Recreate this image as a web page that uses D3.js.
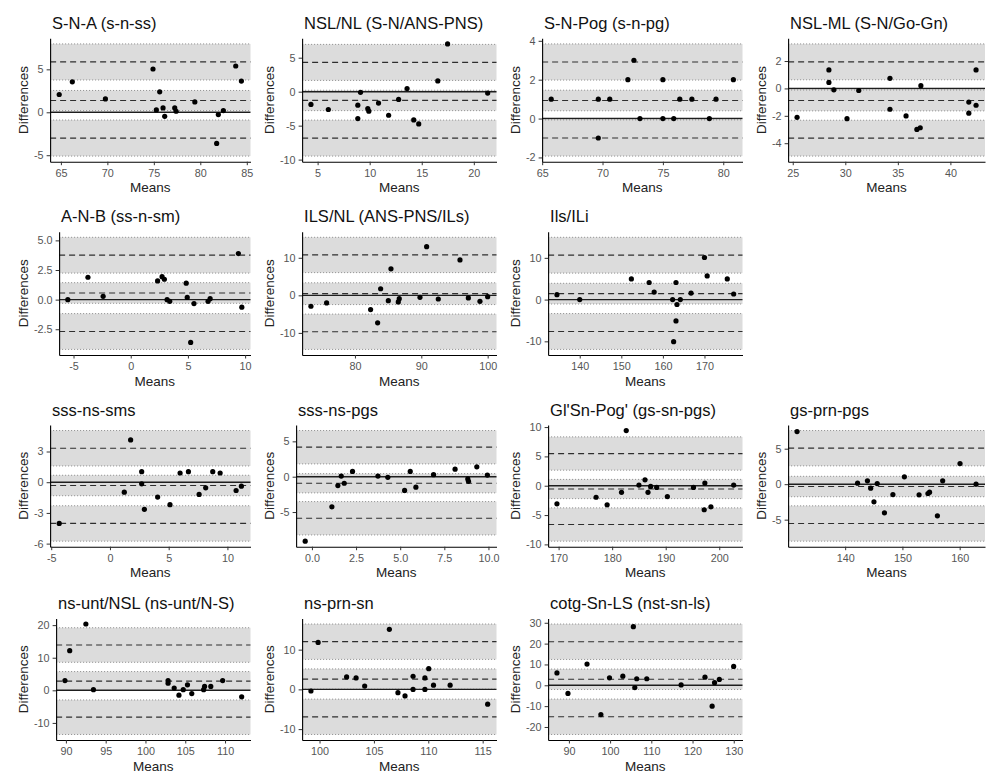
<!DOCTYPE html>
<html>
<head>
<meta charset="utf-8">
<script src="https://cdn.jsdelivr.net/npm/d3@7"></script>
<style>
    body { margin: 0; background: #fff; }
    svg { display: block; font-family: "Liberation Sans", Arial, Helvetica, sans-serif; }
</style>
</head>
<body>
<svg id="chart" width="987" height="773"></svg>
<script>
/* DATA: one array of [mean, difference] pairs per measurement */
const pSNA = [[64.82,2.07],[66.23,3.55],[69.79,1.56],[74.91,5.04],[75.63,2.38],[75.27,0.27],[75.99,0.51],[76.17,-0.47],[77.25,0.51],[77.40,0.12],[79.41,1.21],[81.94,-0.27],[82.48,0.20],[81.76,-3.63],[83.81,5.39],[84.42,3.63]]
const pNSLNL = [[4.36,-1.88],[6.03,-2.62],[8.86,-1.98],[8.86,-3.96],[9.12,-0.10],[9.82,-2.48],[9.92,-2.87],[10.85,-1.68],[11.82,-3.47],[12.78,-1.14],[13.59,0.45],[14.23,-4.16],[14.71,-4.75],[16.54,1.58],[17.48,7.03],[21.33,-0.20]]
const pSNPog = [[65.75,1],[69.65,1],[69.65,-1],[70.6,1],[72.1,2],[72.6,3],[73.1,0],[75.0,2],[75.0,0],[75.9,0],[76.4,1],[77.4,1],[78.85,0],[79.4,1],[80.84,2]]
const pNSLML = [[25.41,-2.11],[28.44,1.35],[28.44,0.44],[28.91,-0.10],[30.16,-2.21],[31.28,-0.15],[34.25,0.74],[34.25,-1.52],[35.78,-2.01],[36.81,-2.99],[37.13,-2.87],[37.19,0.20],[41.75,-1.0],[41.75,-1.81],[42.44,-1.23],[42.44,1.35]]
const pANB = [[-5.5,0.0],[-3.74,1.89],[-2.41,0.28],[2.35,1.58],[2.74,1.94],[2.94,1.72],[3.18,0.0],[3.41,-0.14],[4.85,1.39],[4.94,0.19],[5.53,-0.33],[5.24,-3.61],[6.76,-0.14],[6.94,0.08],[9.41,3.89],[9.71,-0.64]]
const pILSNL = [[73.37,-2.91],[75.73,-2.03],[82.36,-3.79],[83.42,-7.31],[83.87,1.76],[85.43,7.05],[85.03,-1.41],[86.53,-1.76],[86.68,-0.88],[89.80,-0.53],[90.80,12.95],[92.56,-0.97],[95.83,9.43],[97.09,-0.70],[98.84,-1.59],[100.0,-0.35]]
const pIlsILi = [[134.52,1.18],[140.0,0.0],[152.42,4.96],[156.69,4.09],[157.90,1.81],[162.34,0.0],[163.15,4.09],[163.39,-1.18],[163.15,-5.12],[162.58,-10.08],[164.19,0.0],[166.77,1.57],[170.0,10.08],[170.65,5.67],[175.48,4.96],[177.02,1.34]]
const pSssSms = [[-4.32,-4.03],[1.22,-0.97],[1.76,4.13],[2.70,1.03],[2.70,-0.16],[2.93,-2.65],[4.06,-1.45],[5.11,-2.19],[5.97,0.90],[6.68,1.03],[7.59,-1.19],[8.15,-0.55],[8.75,1.03],[9.38,0.90],[10.74,-0.81],[11.19,-0.39]]
const pSssPgs = [[-0.38,-9.12],[1.13,-4.26],[1.47,-1.25],[1.66,0.09],[1.83,-0.93],[2.30,0.74],[3.74,0.09],[4.30,-0.09],[5.25,-1.94],[5.57,0.74],[5.89,-1.48],[6.89,0.28],[8.11,1.06],[8.83,-0.32],[8.87,-0.65],[9.34,1.39],[9.94,0.23]]
const pGlSnPog = [[169.69,-3.08],[177.0,-1.96],[179.06,-3.25],[181.75,-1.12],[182.63,9.41],[185.0,0.11],[186.13,1.01],[186.69,-1.12],[187.19,-0.11],[188.31,-0.28],[190.31,-1.85],[195.19,-0.28],[197.31,0.45],[197.19,-4.09],[198.44,-3.59],[202.69,0.11]]
const pGsPrnPgs = [[131.6,7.42],[142.17,0.14],[143.89,0.47],[144.46,-0.56],[145.03,-2.49],[145.6,0.09],[146.86,-4.04],[148.34,-1.46],[150.34,1.03],[152.91,-1.5],[154.46,-1.31],[154.74,-1.13],[156.11,-4.46],[157.03,0.47],[160.06,2.91],[162.86,0.0]]
const pNsUnt = [[89.88,2.99],[90.48,12.16],[92.51,20.34],[93.46,0.2],[102.84,2.99],[102.84,2.19],[103.61,0.7],[104.21,-1.5],[104.75,0.2],[105.28,1.69],[105.82,-1.0],[107.31,0.2],[107.43,1.2],[108.21,1.2],[109.70,2.99],[112.09,-1.99]]
const pNsPrnSn = [[99.21,-0.41],[99.87,11.82],[102.49,3.14],[103.36,2.89],[104.15,0.83],[106.42,15.12],[107.21,-0.83],[107.86,-1.65],[108.6,3.31],[108.6,0.0],[109.69,2.89],[109.69,0.0],[110.04,5.21],[110.48,1.07],[112.01,1.07],[115.46,-3.72]]
const pCotg = [[87.1,5.94],[89.77,-3.91],[94.4,10.16],[97.76,-14.06],[99.85,3.59],[103.09,4.38],[105.99,-1.09],[105.64,28.13],[106.45,3.13],[108.89,3.13],[117.23,0.16],[123.02,3.91],[124.76,-10.0],[125.34,1.25],[126.5,2.81],[129.98,9.06]]

const titles = ["S-N-A (s-n-ss)", "NSL/NL (S-N/ANS-PNS)", "S-N-Pog (s-n-pg)", "NSL-ML (S-N/Go-Gn)",
    "A-N-B (ss-n-sm)", "ILS/NL (ANS-PNS/ILs)", "Ils/ILi",
    "sss-ns-sms", "sss-ns-pgs", "Gl'Sn-Pog' (gs-sn-pgs)", "gs-prn-pgs",
    "ns-unt/NSL (ns-unt/N-S)", "ns-prn-sn", "cotg-Sn-LS (nst-sn-ls)"]
const points = [pSNA, pNSLNL, pSNPog, pNSLML, pANB, pILSNL, pIlsILi,
    pSssSms, pSssPgs, pGlSnPog, pGsPrnPgs, pNsUnt, pNsPrnSn, pCotg]

// bias, limits of agreement and the half widths of their confidence bands
const meanBias = [1.37, -1.29, 0.93, -0.88, 0.56, 0.44, 1.42, -0.32, -0.93, -0.56, -0.33, 2.85, 2.6, 2.9]
const loaUpper = [5.86, 4.31, 2.91, 1.94, 3.75, 10.75, 10.63, 3.32, 4.17, 5.49, 5.07, 13.9, 12.0, 20.9]
const loaLower = [-3.0, -6.83, -1.0, -3.63, -2.69, -9.69, -7.64, -4.03, -5.88, -6.61, -5.54, -8.25, -6.9, -15.1]
const ciMean = [1.17, 1.5, 0.53, 0.76, 0.87, 2.9, 2.48, 1.0, 1.36, 1.64, 1.44, 2.9, 2.55, 4.9]
const ciLoa = [2.1, 2.65, 0.93, 1.31, 1.51, 4.7, 4.29, 1.73, 2.36, 2.84, 2.49, 5.3, 4.45, 8.5]

const xTicks = [["65","70","75","80","85"], ["5","10","15","20"], ["65","70","75","80"], ["25","30","35","40"],
    ["-5","0","5","10"], ["80","90","100"], ["140","150","160","170"],
    ["-5","0","5","10"], ["0.0","2.5","5.0","7.5","10.0"], ["170","180","190","200"], ["140","150","160"],
    ["90","95","100","105","110"], ["100","105","110","115"], ["90","100","110","120","130"]]
const yTicks = [["-5","0","5"], ["-10","-5","0","5"], ["-2","0","2","4"], ["-4","-2","0","2"],
    ["-2.5","0.0","2.5","5.0"], ["-10","0","10"], ["-10","0","10"],
    ["-6","-3","0","3"], ["-5","0","5"], ["-10","-5","0","5","10"], ["-5","0","5"],
    ["-10","0","10","20"], ["-10","0","10"], ["-20","-10","0","10","20","30"]]

/* LAYOUT */
const slots = [[0,0],[0,1],[0,2],[0,3],[1,0],[1,1],[1,2],[2,0],[2,1],[2,2],[2,3],[3,0],[3,1],[3,2]]
const COL_W = 246
const ROW_TOP = [38.3, 231.7, 425, 618.5]
const ROW_BOTTOM = [161.7, 355, 546.7, 740]
const TICK_FONT = 10.8

const svg = d3.select("#chart")

svg.append("rect").attr("width", 987).attr("height", 773).attr("fill", "#fff")

function measure(labels) {
    const t = svg.append("text").style("font-size", TICK_FONT + "px")
    let w = 0
    labels.forEach(l => {
        t.text(l)
        w = Math.max(w, t.node().getComputedTextLength())
    })
    t.remove()
    return w
}

function expand([a, b]) {
    const pad = (b - a) * 0.05
    return [a - pad, b + pad]
}

points.forEach((pts, i) => {
    const [row, col] = slots[i]
    const cellLeft = col * COL_W
    const left = cellLeft + 40.5 + measure(yTicks[i])
    const right = Math.min(cellLeft + 250.5, 985)
    const top = ROW_TOP[row]
    const bottom = ROW_BOTTOM[row]

    const bands = [
        [meanBias[i] - ciMean[i], meanBias[i] + ciMean[i]],
        [loaUpper[i] - ciLoa[i], loaUpper[i] + ciLoa[i]],
        [loaLower[i] - ciLoa[i], loaLower[i] + ciLoa[i]]
    ]

    const x = d3.scaleLinear()
        .domain(expand(d3.extent(pts, d => d[0])))
        .range([left, right])
    const y = d3.scaleLinear()
        .domain(expand(d3.extent(pts.map(d => d[1]).concat(bands.flat()))))
        .range([bottom, top])

    const g = svg.append("g").attr("class", "panel")

    /* CONFIDENCE BANDS */
    g.selectAll(".band")
        .data(bands)
        .join("rect")
        .attr("class", "band")
        .attr("x", left)
        .attr("width", right - left)
        .attr("y", d => y(d[1]))
        .attr("height", d => y(d[0]) - y(d[1]))
        .attr("fill", "#dcdcdc")

    g.selectAll(".ci-line")
        .data(bands.flat())
        .join("line")
        .attr("class", "ci-line")
        .attr("x1", left).attr("x2", right)
        .attr("y1", d => y(d)).attr("y2", d => y(d))
        .style("stroke", "#8a8a8a")
        .style("stroke-width", 1)
        .style("stroke-dasharray", "1 2")

    g.selectAll(".est-line")
        .data([meanBias[i], loaUpper[i], loaLower[i]])
        .join("line")
        .attr("class", "est-line")
        .attr("x1", left).attr("x2", right)
        .attr("y1", d => y(d)).attr("y2", d => y(d))
        .style("stroke", "#2e2e2e")
        .style("stroke-width", 1.2)
        .style("stroke-dasharray", "6 4")

    g.append("line")
        .attr("x1", left).attr("x2", right)
        .attr("y1", y(0)).attr("y2", y(0))
        .style("stroke", "#1e1e1e")
        .style("stroke-width", 1.4)

    /* POINTS */
    g.selectAll("circle")
        .data(pts)
        .join("circle")
        .attr("cx", d => x(d[0]))
        .attr("cy", d => y(d[1]))
        .attr("r", 2.6)
        .style("fill", "#000")

    /* AXES */
    const yAxis = g.append("g")
        .attr("transform", `translate(${left},0)`)
        .call(d3.axisLeft(y)
            .tickValues(yTicks[i].map(Number))
            .tickFormat((d, k) => yTicks[i][k])
            .tickSize(3.5).tickSizeOuter(0).tickPadding(3))
    const xAxis = g.append("g")
        .attr("transform", `translate(0,${bottom})`)
        .call(d3.axisBottom(x)
            .tickValues(xTicks[i].map(Number))
            .tickFormat((d, k) => xTicks[i][k])
            .tickSize(3.5).tickSizeOuter(0).tickPadding(4.3))

    ;[yAxis, xAxis].forEach(a => {
        a.select(".domain").style("stroke", "#000").style("stroke-width", 1.1)
        a.selectAll(".tick line").style("stroke", "#333")
        a.selectAll(".tick text")
            .style("font-family", "'Liberation Sans', Arial, sans-serif")
            .style("font-size", TICK_FONT + "px")
            .style("fill", "#555")
    })

    /* TITLES */
    g.append("text")
        .attr("x", left + 2)
        .attr("y", top - 9.5)
        .style("font-size", "16.5px")
        .style("fill", "#111")
        .text(titles[i])

    g.append("text")
        .attr("x", (left + right) / 2)
        .attr("y", bottom + 30.5)
        .attr("text-anchor", "middle")
        .style("font-size", "13.5px")
        .style("fill", "#222")
        .text("Means")

    g.append("text")
        .attr("transform", `translate(${cellLeft + 23.5},${(top + bottom) / 2}) rotate(-90)`)
        .attr("dy", "0.35em")
        .attr("text-anchor", "middle")
        .style("font-size", "13.5px")
        .style("fill", "#222")
        .text("Differences")
})
</script>
</body>
</html>
